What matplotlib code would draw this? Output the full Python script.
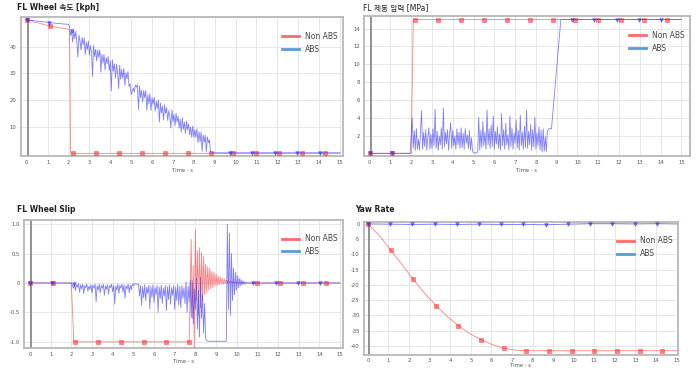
import numpy as np
import matplotlib
matplotlib.use('Agg')
import matplotlib.pyplot as plt
from matplotlib.lines import Line2D

plt.rcParams['font.family'] = ['DejaVu Sans', 'Noto Sans CJK KR']

# ---- data ----
STEP = 0.05

# FL wheel speed [kph]
speed_red_t = [0.0, 1.1, 2.0, 2.05, 2.1, 2.2, 3.3, 4.4, 5.5, 6.6, 7.7, 8.8, 9.9, 11.0, 12.1, 13.2, 14.3, 15.0]
speed_red_v = [50.0, 47.7, 46.5, 46.3, 0.0, 0.0, 0.0, 0.0, 0.0, 0.0, 0.0, 0.0, 0.0, 0.0, 0.0, 0.0, 0.0, 0.0]
speed_abs_head_t = [0.0, 1.08, 2.0]
speed_abs_head_v = [50.0, 49.0, 48.3]
speed_abs_noisy_start = 2.05
speed_abs_noisy_v = [
    47.5, 44.2, 45.9, 41.6, 45.8, 43.0, 45.7, 41.4, 36.1, 44.3, 42.0, 38.7, 43.4, 40.6, 43.3, 37.0, 41.7, 38.9, 42.1,
    36.8, 40.4, 38.1, 28.8, 40.5, 36.2, 38.9, 34.6, 38.8, 36.0, 38.7, 30.4, 37.1, 33.8, 37.0, 31.2, 35.9, 33.6, 36.3, 31.0,
    34.7, 23.4, 35.1, 30.8, 33.5, 28.2, 33.4, 30.6, 24.3, 33.0, 27.7, 31.4, 28.1, 31.8, 25.5, 30.2, 27.9, 30.6, 25.0, 26.0,
    22.0, 23.0, 24.5, 23.0, 25.5, 24.8, 25.8, 16.5, 25.2, 20.9, 23.6, 19.3, 23.5, 20.8, 23.5, 16.2, 21.9, 18.6, 22.3, 16.0,
    20.7, 18.4, 21.1, 15.8, 19.5, 16.8, 20.0, 11.7, 18.9, 15.1, 17.8, 12.5, 18.2, 14.9, 17.1, 12.3, 16.0, 13.8, 9.5, 16.2,
    11.9, 14.6, 10.3, 15.0, 11.7, 13.9, 9.5, 12.8, 8.0, 13.3, 9.0, 11.7, 7.4, 12.1, 8.8, 11.0, 7.0, 9.9, 6.0, 10.3,
    6.0, 8.8, 6.0, 9.2, 4.0, 8.1, 4.3, 8.0, 0.7, 6.9, 4.1, 6.8, 0.5, 6.2, 3.9, 5.1,
]
speed_abs_tail_t = [8.8, 8.85, 9.72, 10.8, 11.88, 12.96, 14.04, 15.0]
speed_abs_tail_v = [0.5, 0.2, 0.2, 0.2, 0.2, 0.2, 0.2, 0.2]

# FL brake pressure [MPa]
press_red_t = [0.0, 1.1, 2.0, 2.1, 2.2, 3.3, 4.4, 5.5, 6.6, 7.7, 8.8, 9.9, 11.0, 12.1, 13.2, 14.3, 15.0]
press_red_v = [0.05, 0.05, 0.05, 15.0, 15.0, 15.0, 15.0, 15.0, 15.0, 15.0, 15.0, 15.0, 15.0, 15.0, 15.0, 15.0, 15.0]
press_abs_head_t = [0.0, 1.08, 1.95]
press_abs_head_v = [0.05, 0.05, 0.05]
press_abs_noisy_start = 2.0
press_abs_noisy_v = [
    2.3, 4.0, 0.6, 2.6, 0.4, 2.8, 0.5, 1.6, 0.4, 2.5, 4.8, 0.5, 2.4, 0.8, 2.7, 0.4, 1.8, 2.9, 0.5, 2.2,
    0.6, 2.8, 0.9, 5.0, 0.6, 2.5, 0.4, 2.0, 1.0, 2.9, 0.5, 5.1, 0.8, 2.4, 1.1, 2.7, 0.4, 2.2, 3.5, 0.6,
    2.6, 0.9, 2.0, 0.5, 2.8, 1.0, 2.4, 0.6, 2.9, 0.7, 2.3, 0.5, 2.8, 1.2, 2.1, 0.6, 2.6, 0.4, 1.8, 0.3,
    0.1, 0.1, 0.1, 0.1, 0.2, 4.1, 0.4, 2.6, 0.7, 3.6, 0.9, 2.4, 0.5, 4.9, 1.0, 2.8, 0.6, 3.2, 0.8, 4.2,
    0.5, 2.5, 1.1, 3.0, 0.6, 2.2, 0.4, 4.5, 0.9, 2.7, 0.5, 3.4, 1.0, 2.1, 0.4, 4.2, 0.8, 2.9, 0.5, 2.3,
    1.2, 3.8, 0.6, 2.6, 0.4, 4.3, 0.9, 2.4, 0.5, 3.1, 0.7, 4.9, 0.6, 2.5, 1.0, 3.3, 0.4, 2.7, 0.8, 4.1,
    0.5, 2.3, 0.9, 3.0, 0.4, 2.6, 0.2, 2.8, 0.3, 1.9, 0.2, 2.5,
]
press_abs_tail_t = [8.62, 8.75, 9.2, 9.72, 10.8, 11.88, 12.96, 14.04, 15.0]
press_abs_tail_v = [2.8, 2.8, 15.0, 15.0, 15.0, 15.0, 15.0, 15.0, 15.0]

# FL wheel slip
slip_red_head_t = [0.0, 1.1, 2.0, 2.12, 2.2, 3.3, 4.4, 5.5, 6.6, 7.7]
slip_red_head_v = [0.0, 0.0, 0.0, -1.0, -1.0, -1.0, -1.0, -1.0, -1.0, -1.0]
slip_red_noisy_start = 7.75
slip_red_noisy_v = [
    -0.20, 0.74, -0.60, 0.30, -1.12, 0.90, -0.30, 0.55, -0.55, 0.60, -0.42, 0.52, -0.30, 0.45, -0.20,
    0.32, -0.17, 0.28, -0.12, 0.25, -0.10, 0.20, -0.08, 0.18, -0.05, 0.15, -0.04, 0.12, -0.03, 0.10,
    -0.02, 0.08, -0.02, 0.07, -0.01, 0.05, 0.00, 0.04, 0.00, 0.03, 0.00, 0.03, 0.00, 0.02, 0.00,
    0.02, 0.00, 0.01, 0.00, 0.01, 0.00, 0.01, 0.00, 0.00, 0.00, 0.00,
]
slip_red_tail_t = [11.0, 12.1, 13.2, 14.3, 15.0]
slip_red_tail_v = [0.0, 0.0, 0.0, 0.0, 0.0]

slip_abs_head_t = [0.0, 1.08, 2.0]
slip_abs_head_v = [0.0, 0.0, 0.0]
slip_abs_noisy_start = 2.05
slip_abs_noisy_v = [
    -0.03, -0.09, -0.02, -0.13, -0.03, -0.07, -0.01, -0.16, -0.03, -0.10, -0.02, -0.18, -0.04, -0.08, -0.02, -0.14, -0.05, -0.11, -0.03,
    -0.17, -0.04, -0.09, -0.02, -0.32, -0.05, -0.12, -0.02, -0.17, -0.04, -0.09, -0.02, -0.21, -0.05, -0.11, -0.03, -0.19, -0.04, -0.08, -0.02,
    -0.15, -0.04, -0.36, -0.05, -0.12, -0.02, -0.18, -0.04, -0.09, -0.02, -0.16, -0.03, -0.26, -0.05, -0.10, -0.02, -0.17, -0.04, -0.12, -0.02,
    -0.05, -0.01, -0.02, -0.01, -0.03, -0.02, -0.22, -0.04, -0.38, -0.06, -0.25, -0.03, -0.30, -0.07, -0.18, -0.04, -0.44, -0.06, -0.24, -0.03,
    -0.33, -0.08, -0.20, -0.04, -0.50, -0.07, -0.27, -0.03, -0.35, -0.09, -0.22, -0.04, -0.47, -0.06, -0.28, -0.03, -0.36, -0.08, -0.21, -0.04,
    -0.45, -0.07, -0.30, -0.02, -0.38, -0.06, -0.42, -0.04, -0.26, -0.08, -0.35, 0.03, -0.50, -0.05, -0.32, 0.05, -0.58, 0.04, -0.70, -0.10,
    -0.45, 0.08, -0.78, -0.12, -0.92, 0.10, -0.60, -0.20, -0.85, -0.35, -0.95, -0.98,
]
slip_abs_flat_t = [8.6, 9.5]
slip_abs_flat_v = [-0.99, -0.99]
slip_abs_osc_start = 9.55
slip_abs_osc_v = [1.00, -0.45, 0.85, -0.55, 0.50, -0.30, 0.25, -0.20, 0.18, -0.12,
                  0.12, -0.08, 0.08, -0.05, 0.05, -0.03, 0.03, -0.02, 0.01, 0.00]
slip_abs_tail_t = [10.8, 11.88, 12.96, 14.04, 15.0]
slip_abs_tail_v = [0.0, 0.0, 0.0, 0.0, 0.0]

# Yaw rate
yaw_red_t = [0.0, 0.55, 1.1, 1.65, 2.2, 2.75, 3.3, 3.85, 4.4, 4.95, 5.5, 6.05, 6.6, 7.15, 7.7,
             8.8, 9.9, 11.0, 12.1, 13.2, 14.3, 15.0]
yaw_red_v = [0.0, -3.8, -8.5, -13.3, -18.2, -22.7, -26.8, -30.3, -33.4, -36.0, -38.0, -39.6, -40.8, -41.4, -41.6,
             -41.6, -41.6, -41.6, -41.6, -41.6, -41.6, -41.6]
yaw_abs_t = [0.0, 1.08, 2.16, 3.24, 4.32, 5.4, 6.48, 7.56, 8.64, 9.72, 10.8, 11.88, 12.96, 14.04, 15.0]
yaw_abs_v = [0.0, -0.1, -0.2, -0.1, -0.2, -0.1, -0.2, -0.2, -0.3, -0.1, 0.1, 0.1, 0.0, 0.1, 0.0]

RED = '#ff3030'
BLUE = '#2a2aff'


def build(*parts):
    """조각(시간, 값)을 이어 붙여 하나의 시계열로"""
    ts, vs = [], []
    for t, v in parts:
        ts.append(np.asarray(t, float))
        vs.append(np.asarray(v, float))
    return np.concatenate(ts), np.concatenate(vs)


def grid(start, values):
    return start + STEP * np.arange(len(values)), values


def mark_idx(t, step, skip=None, tol=0.03):
    idx = []
    for m in np.arange(0, t[-1] + 1e-6, step):
        if skip and skip[0] < m < skip[1]:
            continue
        i = int(np.argmin(np.abs(t - m)))
        if abs(t[i] - m) < tol and i not in idx:
            idx.append(i)
    return idx


def draw(ax, t, v, color, marker, step, skip=None):
    ax.plot(t, v, color=color, lw=0.6, alpha=0.6, marker=marker, markersize=2.6,
            markevery=mark_idx(t, step, skip), markerfacecolor=color, markeredgewidth=0.5, zorder=3)


def style(ax, title, xlim, ylim, yticks, ylabels, title_xy, bold=True, labelpad=2):
    ax.set_xlim(*xlim)
    ax.set_ylim(*ylim)
    ax.set_xticks(range(16))
    ax.set_yticks(yticks)
    ax.set_yticklabels(ylabels)
    ax.tick_params(length=0, labelsize=3.8, labelcolor='#555555', pad=3)
    ax.grid(True, color='#e2e2e2', lw=0.6)
    ax.set_axisbelow(True)
    for s in ax.spines.values():
        s.set_color('#b8b8b8')
        s.set_linewidth(1.3)
    ax.axvline(0.05, color='#777777', lw=1.1, zorder=2)
    ax.set_xlabel('Time - s', fontsize=3.8, color='#555555', labelpad=labelpad)
    fig.text(title_xy[0], title_xy[1], title, fontsize=5.5,
             fontweight='bold' if bold else 'normal', color='#222222', ha='left', va='center')
    handles = [Line2D([0], [0], color='#ff6b6b', lw=2, label='Non ABS'),
               Line2D([0], [0], color='#5b9bd5', lw=2, label='ABS')]
    ax.legend(handles=handles, loc='upper right', bbox_to_anchor=(1.0, 0.93), frameon=False,
              fontsize=5.5, handlelength=2.2, labelspacing=0.5, borderaxespad=0.3,
              labelcolor='#444444')


fig = plt.figure(figsize=(6.96, 3.70), dpi=100)
W, H = 696.0, 370.0


def axes_px(l, t, r, b):
    return fig.add_axes([l / W, 1 - b / H, (r - l) / W, (b - t) / H])


# 1) FL wheel speed
ax1 = axes_px(20.7, 16.7, 343.3, 156)
t, v = build((speed_red_t, speed_red_v))
draw(ax1, t, v, RED, 's', 1.1)
t, v = build((speed_abs_head_t, speed_abs_head_v), grid(speed_abs_noisy_start, speed_abs_noisy_v),
             (speed_abs_tail_t, speed_abs_tail_v))
draw(ax1, t, v, BLUE, 'v', 1.08, skip=(2.3, 8.7))
style(ax1, 'FL Wheel 속도 [kph]', (-0.29, 15.16), (-1.0, 51.2), [10, 20, 30, 40],
      ['10', '20', '30', '40'], (17 / W, 1 - 8 / H))

# 2) FL brake pressure
ax2 = axes_px(364, 16, 689.7, 156)
t, v = build((press_red_t, press_red_v))
draw(ax2, t, v, RED, 's', 1.1)
t, v = build((press_abs_head_t, press_abs_head_v), grid(press_abs_noisy_start, press_abs_noisy_v),
             (press_abs_tail_t, press_abs_tail_v))
draw(ax2, t, v, BLUE, 'v', 1.08, skip=(2.0, 9.5))
style(ax2, 'FL 제동 압력 [MPa]', (-0.27, 15.4), (-0.25, 15.4), [2, 4, 6, 8, 10, 12, 14],
      ['2', '4', '6', '8', '10', '12', '14'], (363 / W, 1 - 9 / H), bold=False)

# 3) FL wheel slip
ax3 = axes_px(24, 220, 343.3, 348.3)
t, v = build((slip_red_head_t, slip_red_head_v), grid(slip_red_noisy_start, slip_red_noisy_v),
             (slip_red_tail_t, slip_red_tail_v))
draw(ax3, t, v, RED, 's', 1.1, skip=(7.75, 10.8))
t, v = build((slip_abs_head_t, slip_abs_head_v), grid(slip_abs_noisy_start, slip_abs_noisy_v),
             (slip_abs_flat_t, slip_abs_flat_v), grid(slip_abs_osc_start, slip_abs_osc_v),
             (slip_abs_tail_t, slip_abs_tail_v))
draw(ax3, t, v, BLUE, 'v', 1.08, skip=(2.3, 10.5))
style(ax3, 'FL Wheel Slip', (-0.29, 15.16), (-1.11, 1.07), [-1.0, -0.5, 0, 0.5, 1.0],
      ['-1.0', '-0.5', '0', '0.5', '1.0'], (17 / W, 1 - 209 / H), labelpad=1)

# 4) Yaw rate
ax4 = axes_px(364, 221.7, 678, 355)
t, v = build((yaw_red_t, yaw_red_v))
draw(ax4, t, v, RED, 's', 1.1)
t, v = build((yaw_abs_t, yaw_abs_v))
draw(ax4, t, v, BLUE, 'v', 1.08)
ticks = [0, -5, -10, -15, -20, -25, -30, -35, -40]
style(ax4, 'Yaw Rate', (-0.19, 15.07), (-43.0, 0.7), ticks, [str(x) for x in ticks],
      (355 / W, 1 - 209 / H), labelpad=0)
ax4.xaxis.set_tick_params(pad=2)

fig.savefig('out.png', dpi=100)
